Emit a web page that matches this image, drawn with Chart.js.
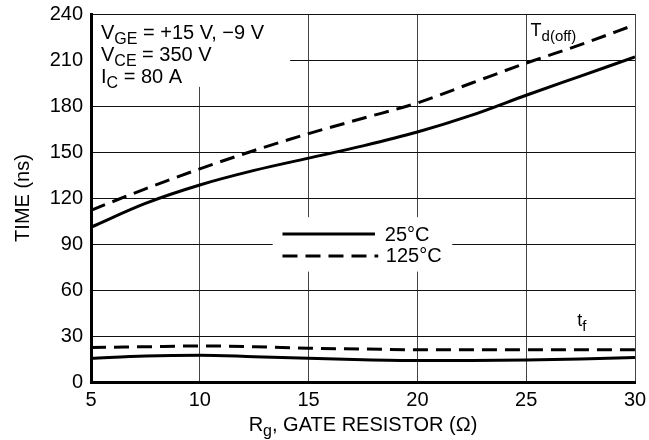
<!DOCTYPE html>
<html lang="en">
<head>
<meta charset="UTF-8">
<title>Td(off), tf vs Rg</title>
<script src="https://cdn.jsdelivr.net/npm/chart.js"></script>
<style>
  html, body { margin: 0; padding: 0; background: #fff; }
</style>
</head>
<body>
<canvas id="myChart" width="649" height="440"></canvas>
<script>
// gate resistor values (ohm)
const rg = [5, 7.5, 10, 12.5, 15, 17.5, 20, 22.5, 25, 27.5, 30];
// turn-off delay time (ns)
const tdOff25  = [101, 116.5, 128.5, 138, 146, 154, 163, 174, 187, 199.5, 212];
const tdOff125 = [112, 126, 139, 151, 162, 172, 182, 195, 208, 220, 233];
// fall time (ns)
const tf25  = [15.5, 17, 17.5, 16.5, 15.5, 14.5, 14, 14, 14.3, 15, 16];
const tf125 = [22.5, 23, 23.5, 23, 22, 21.5, 21, 21, 21, 21, 21];

const legendLabels = ['25°C', '125°C'];
const conditions = [
  [['V', false], ['GE', true], [' = +15 V, \u22129 V', false]],
  [['V', false], ['CE', true], [' = 350 V', false]],
  [['I', false], ['C', true], [' = 80 A', false]]
];
const xTitle = [['R', false], ['g', true], [', GATE RESISTOR (\u03A9)', false]];

const FONT = '"Liberation Sans", Arial, Helvetica, sans-serif';
Chart.defaults.font.family = FONT;
Chart.defaults.font.size = 20;
Chart.defaults.color = '#000';

const pts = (ys) => rg.map((x, i) => ({ x: x, y: ys[i] }));

const solid = { borderColor: '#000', borderWidth: 3, pointRadius: 0, cubicInterpolationMode: 'monotone', fill: false };
const dashed = Object.assign({}, solid, { borderDash: [15, 8] });

// draws text with subscripts, returns width
const drawRich = (ctx, parts, x, y, size, subSize, measureOnly) => {
  let cx = x;
  parts.forEach(([txt, sub]) => {
    ctx.font = (sub ? subSize : size) + 'px ' + FONT;
    if (!measureOnly) ctx.fillText(txt, cx, sub ? y + 5 : y);
    cx += ctx.measureText(txt).width;
  });
  return cx - x;
};

const overlay = {
  id: 'overlay',
  afterDatasetsDraw(chart) {
    const { ctx, chartArea: a, scales: { x, y } } = chart;
    ctx.save();
    ctx.fillStyle = '#fff';
    // conditions box
    const bx = a.left + 2, by = a.top + 1;
    ctx.fillRect(bx, by, x.getPixelForValue(14.15) - bx, y.getPixelForValue(192.5) - by);
    // legend box
    const lx0 = x.getPixelForValue(13.35), lx1 = x.getPixelForValue(21.6);
    const ly0 = y.getPixelForValue(107.5), ly1 = y.getPixelForValue(72);
    ctx.fillRect(lx0, ly0, lx1 - lx0, ly1 - ly0);

    ctx.fillStyle = '#000';
    ctx.textBaseline = 'alphabetic';
    ctx.textAlign = 'left';
    conditions.forEach((line, i) => {
      drawRich(ctx, line, a.left + 10, a.top + 25 + i * 22, 20, 16);
    });

    // legend lines
    const ds = chart.data.datasets;
    [0, 1].forEach(i => {
      const ly = y.getPixelForValue(i === 0 ? 96.5 : 82.2);
      ctx.lineWidth = ds[i].borderWidth;
      ctx.strokeStyle = ds[i].borderColor;
      ctx.setLineDash(ds[i].borderDash || []);
      ctx.beginPath();
      ctx.moveTo(x.getPixelForValue(13.8), ly);
      ctx.lineTo(x.getPixelForValue(i === 0 ? 18.05 : 18.2), ly);
      ctx.stroke();
      ctx.setLineDash([]);
      ctx.font = '20px ' + FONT;
      ctx.textBaseline = 'middle';
      ctx.fillText(legendLabels[i], x.getPixelForValue(i === 0 ? 18.5 : 18.55), ly + 1);
    });

    // curve labels
    ctx.textBaseline = 'alphabetic';
    drawRich(ctx, [['T', false], ['d(off)', true]], x.getPixelForValue(25.2), y.getPixelForValue(225.5), 18, 15);
    drawRich(ctx, [['t', false], ['f', true]], x.getPixelForValue(27.35), y.getPixelForValue(36.5), 18, 15);

    // x axis title with subscript
    const w = drawRich(ctx, xTitle, 0, 0, 20, 16, true);
    drawRich(ctx, xTitle, (a.left + a.right) / 2 - w / 2, 431, 20, 16);
    ctx.restore();
  }
};

new Chart(document.getElementById('myChart').getContext('2d'), {
  type: 'line',
  data: {
    datasets: [
      Object.assign({ label: legendLabels[0] + ' td(off)', data: pts(tdOff25) }, solid),
      Object.assign({ label: legendLabels[1] + ' td(off)', data: pts(tdOff125) }, dashed),
      Object.assign({ label: legendLabels[0] + ' tf', data: pts(tf25) }, solid),
      Object.assign({ label: legendLabels[1] + ' tf', data: pts(tf125) }, dashed)
    ]
  },
  options: {
    responsive: false,
    animation: false,
    layout: { padding: { left: 0, right: 14, top: 14, bottom: 0 } },
    plugins: { legend: { display: false }, tooltip: { enabled: false } },
    scales: {
      x: {
        type: 'linear',
        min: 5, max: 30,
        ticks: { stepSize: 5, padding: 6, maxRotation: 0 },
        grid: { color: '#444', lineWidth: 1, drawTicks: false },
        border: { color: '#000', width: 3 },
        title: { display: false },
        afterFit: s => { s.height = 58; s.paddingLeft = 0; s.paddingRight = 0; }
      },
      y: {
        min: 0, max: 240,
        ticks: { stepSize: 30, padding: 8 },
        grid: { color: '#111', lineWidth: 1, drawTicks: false },
        border: { color: '#000', width: 3 },
        title: { display: true, text: 'TIME (ns)', padding: { top: 11, bottom: 0 } },
        afterFit: s => { s.width = 91; s.paddingTop = 0; s.paddingBottom = 0; }
      }
    }
  },
  plugins: [overlay]
});
</script>
</body>
</html>
